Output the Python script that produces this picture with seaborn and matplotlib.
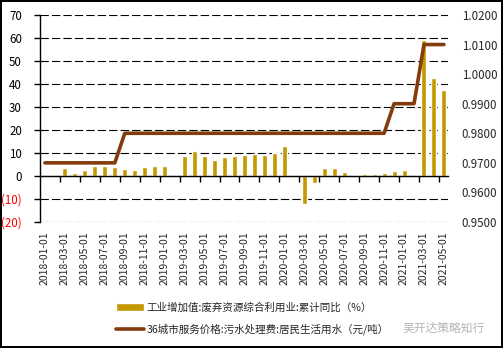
import numpy as np
import pandas as pd
import matplotlib
matplotlib.use("Agg")
import matplotlib.pyplot as plt
import seaborn as sns

# Monthly categories
dates = list(pd.date_range("2018-01-01", "2021-05-01", freq="MS").strftime("%Y-%m-%d"))

# 工业增加值:废弃资源综合利用业:累计同比 (%)
growth = [np.nan, np.nan, 3.5, 1.3, 2.6, 4.5, 4.5, 3.9, 3.0, 2.6, 3.9, 4.5,
          4.5, np.nan, 8.8, 10.9, 8.8, 7.0, 8.3, 8.8, 9.3, 9.7, 9.3, 10.0,
          13.2, np.nan, -12.0, -2.9, 3.6, 3.5, 1.7, 0.6, 1.0, 1.0, 1.3, 2.2,
          2.6, np.nan, 59.1, 42.6, 37.4]

# 36城市服务价格:污水处理费:居民生活用水 (元/吨)
price = [0.97] * 8 + [0.98] * 27 + [0.99] * 3 + [1.01] * 3

left_ticks = list(range(-20, 71, 10))
right_ticks = [0.95, 0.96, 0.97, 0.98, 0.99, 1.00, 1.01, 1.02]

bar_label = "工业增加值:废弃资源综合利用业:累计同比（%）"
line_label = "36城市服务价格:污水处理费:居民生活用水（元/吨）"

sns.set_theme(style="white")
plt.rcParams["font.family"] = ["Noto Sans CJK SC", "DejaVu Sans"]
plt.rcParams["axes.unicode_minus"] = False

BAR_COLOR = "#C49800"
LINE_COLOR = "#843C0C"

fig = plt.figure(figsize=(5.03, 3.48), dpi=100, facecolor="white",
                 edgecolor="black", linewidth=1.5)
ax = fig.add_axes([0.0795, 0.362, 0.811, 0.595])

df = pd.DataFrame({"date": dates, "growth": growth})
sns.barplot(data=df, x="date", y="growth", order=dates, color=BAR_COLOR,
            width=0.5, errorbar=None, saturation=1, ax=ax, label=bar_label)

ax.set_ylim(-20, 70)
ax.set_xlim(-0.5, 40.4)
ax.set_yticks(left_ticks)
ax.set_yticklabels([f"({abs(v)})" if v < 0 else str(v) for v in left_ticks],
                   fontsize=8.3)
for lab, v in zip(ax.get_yticklabels(), left_ticks):
    lab.set_color("#FF0000" if v < 0 else "black")
ax.tick_params(axis="y", which="both", left=True, length=4, width=1,
               color="black", pad=9)
ax.yaxis.grid(True, color="black", linewidth=0.8, linestyle=(0, (7.5, 2.8)))
ax.set_axisbelow(True)
ax.set_xlabel("")
ax.set_ylabel("")

for side in ["top", "right"]:
    ax.spines[side].set_visible(False)
ax.spines["left"].set_color("black")
ax.spines["left"].set_linewidth(1)
ax.spines["bottom"].set_position(("data", 0))
ax.spines["bottom"].set_color("black")
ax.spines["bottom"].set_linewidth(1)

# tick marks on the zero line at every second category boundary
n = len(dates)
ax.set_xticks(np.arange(1.5, n, 2))
ax.set_xticklabels([])
ax.tick_params(axis="x", bottom=True, length=4, width=1, color="black",
               direction="out")

# date labels along the bottom of the plot area
sec = ax.secondary_xaxis("bottom")
sec.set_xticks(range(0, n, 2))
sec.set_xticklabels(dates[::2], rotation=90, fontsize=7.5)
sec.tick_params(length=0, pad=7)
sec.spines["bottom"].set_visible(False)

# price line on the secondary axis
ax2 = ax.twinx()
sns.lineplot(x=np.arange(n), y=price, ax=ax2, color=LINE_COLOR,
             linewidth=2.6, label=line_label, legend=False)
ax2.set_ylim(0.95, 1.02)
ax2.set_yticks(right_ticks)
ax2.set_yticklabels([f"{v:.4f}" for v in right_ticks], fontsize=8.3)
ax2.tick_params(axis="y", right=False, length=0, pad=10)
ax2.grid(False)
ax2.set_ylabel("")
for side in ["top", "right", "left", "bottom"]:
    ax2.spines[side].set_visible(False)

h1, l1 = ax.get_legend_handles_labels()
h2, l2 = ax2.get_legend_handles_labels()
if ax.get_legend() is not None:
    ax.get_legend().remove()
if ax2.get_legend() is not None:
    ax2.get_legend().remove()
fig.legend(h1 + h2, l1 + l2, loc="upper left",
           bbox_to_anchor=(0.222, 0.143), bbox_transform=fig.transFigure,
           frameon=False, fontsize=7.6, handlelength=2.7, handleheight=0.7,
           handletextpad=0.2, labelspacing=1.0, borderaxespad=0)

fig.text(0.80, 0.058, "吴开达策略知行", color="#B4B4B4", fontsize=8.5,
         ha="left", va="center")

fig.savefig("out.png", dpi=100, facecolor=fig.get_facecolor(),
            edgecolor=fig.get_edgecolor())
